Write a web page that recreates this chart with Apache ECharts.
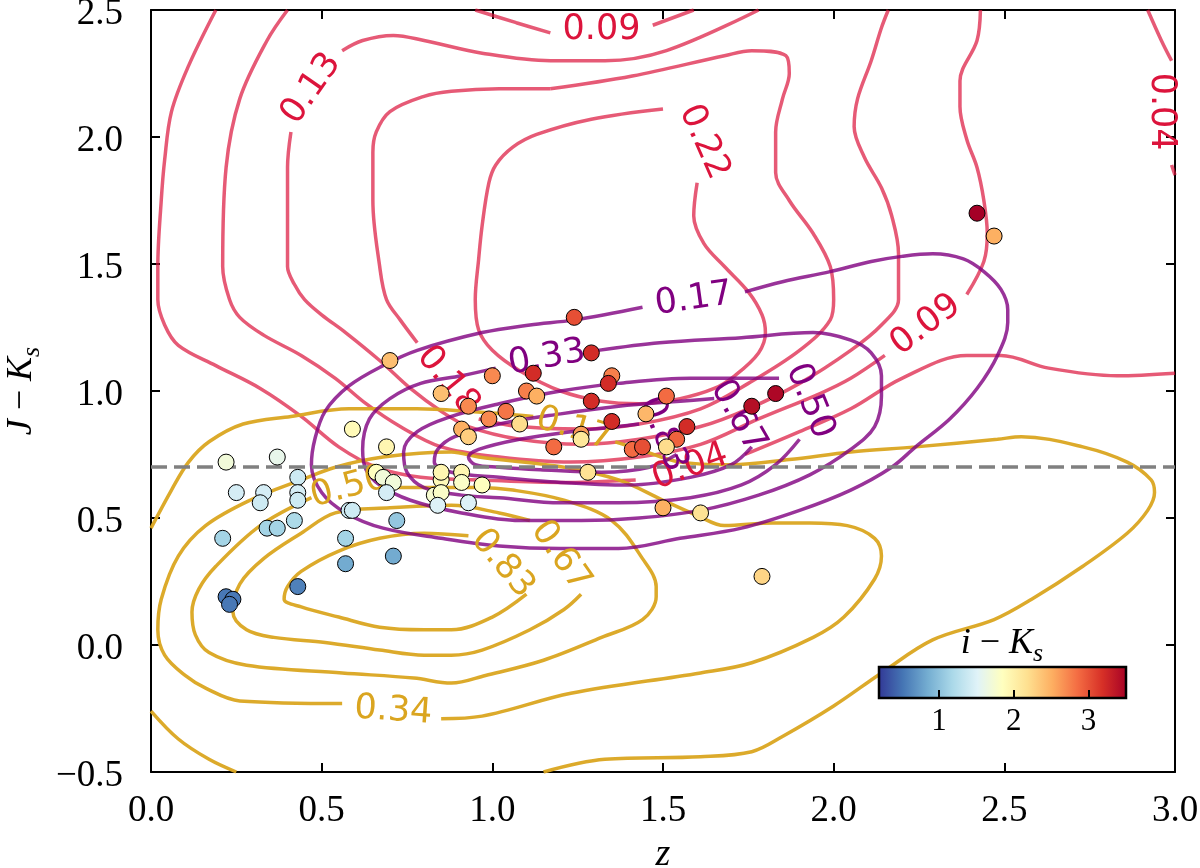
<!DOCTYPE html>
<html>
<head>
<meta charset="utf-8">
<title>J-Ks vs z</title>
<script src="https://cdn.jsdelivr.net/npm/echarts@6/dist/echarts.min.js"></script>
<style>
  html, body { margin: 0; padding: 0; background: #fff; }
  #box { width: 1200px; height: 868px; }
</style>
</head>
<body>
<div id="box"></div>
<script>
// galaxies: [z, J-Ks, i-Ks]
var galaxies = [
  [0.70,1.12,2.4],[0.85,0.99,2.4],[0.93,0.94,2.7],[1.00,1.06,2.7],[0.99,0.89,2.7],
  [0.91,0.85,2.5],[0.93,0.82,2.3],[0.59,0.85,1.9],[0.69,0.78,1.95],[0.22,0.72,1.7],
  [0.37,0.74,1.6],[0.25,0.60,1.45],[0.33,0.60,1.45],[0.32,0.56,1.4],[0.43,0.66,1.4],
  [0.43,0.60,1.45],[0.43,0.57,1.4],[0.21,0.42,1.15],[0.34,0.46,1.15],[0.37,0.46,1.15],
  [0.42,0.49,1.2],[0.58,0.53,1.4],[0.59,0.53,1.4],[0.57,0.42,1.15],[0.57,0.32,0.85],
  [0.72,0.49,1.05],[0.71,0.35,0.85],[0.43,0.23,0.6],[0.22,0.19,0.55],[0.24,0.18,0.55],
  [0.23,0.16,0.55],[0.66,0.68,1.85],[0.68,0.66,1.7],[0.71,0.64,1.7],[0.69,0.60,1.45],
  [0.85,0.65,1.9],[0.85,0.68,1.95],[0.91,0.68,1.95],[0.91,0.64,1.8],[0.97,0.63,1.85],
  [0.83,0.59,1.75],[0.85,0.60,1.8],[0.84,0.55,1.5],[0.93,0.56,1.5],
  [1.24,1.29,3.0],[1.29,1.15,3.2],[1.12,1.07,3.2],[1.35,1.06,2.75],[1.34,1.03,3.2],
  [1.10,1.00,2.75],[1.13,0.98,2.5],[1.29,0.96,3.2],[1.04,0.92,2.8],[1.08,0.87,2.2],
  [1.35,0.88,3.2],[1.51,0.98,2.85],[1.45,0.91,2.45],[1.57,0.86,3.2],[1.54,0.81,2.9],
  [1.51,0.78,2.2],[1.26,0.83,2.6],[1.26,0.81,2.1],[1.18,0.78,2.85],[1.41,0.77,2.85],
  [1.44,0.78,3.0],[1.28,0.68,2.15],[1.50,0.54,2.5],[1.61,0.52,2.15],[1.76,0.94,3.4],
  [1.83,0.99,3.45],[1.79,0.27,2.25],[2.42,1.70,3.5],[2.47,1.61,2.5]
];

var cutLine = 0.7;
var colorbarTicks = [1, 2, 3];
var ikMin = 0.2, ikMax = 3.5;
var rdylbuR = ['#313695','#4575b4','#74add1','#abd9e9','#e0f3f8','#ffffbf',
               '#fee090','#fdae61','#f46d43','#d73027','#a50026'];

// contour segments, one array of segments per level
var red004 = [
  [[0.19,2.50],[0.11,2.28],[0.06,2.10],[0.04,1.91],[0.03,1.75],[0.02,1.49],[0.02,1.36],[0.04,1.26],[0.08,1.18],[0.19,1.10],[0.32,1.01],[0.44,0.90],[0.55,0.78],[0.66,0.70],[0.79,0.66],[0.96,0.65],[1.20,0.64],[1.42,0.65]],
  [[1.74,0.75],[1.90,0.84],[2.05,0.93],[2.20,1.05],[2.39,1.14],[2.49,1.14],[2.63,1.09],[2.83,1.06],[3.00,1.07]],
  [[2.92,2.50],[2.96,2.38],[2.99,2.30]],
  [[2.99,1.89],[3.00,1.85]]
];
var red009 = [
  [[0.40,2.50],[0.34,2.38],[0.26,2.15],[0.22,1.88],[0.21,1.49],[0.23,1.36],[0.26,1.29],[0.33,1.22],[0.44,1.14],[0.54,1.05],[0.63,0.95],[0.73,0.86],[0.85,0.78],[1.02,0.74],[1.23,0.72],[1.43,0.74],[1.61,0.79],[1.78,0.89],[1.96,0.99],[2.05,1.05],[2.15,1.14]],
  [[2.39,1.38],[2.44,1.51],[2.45,1.62],[2.44,1.75],[2.42,1.88],[2.39,1.99],[2.37,2.12],[2.37,2.22],[2.42,2.38],[2.43,2.50]],
  [[0.95,2.50],[1.07,2.45],[1.17,2.41]],
  [[1.47,2.44],[1.59,2.50]]
];
var red013 = [
  [[0.41,2.02],[0.40,1.88],[0.40,1.63],[0.40,1.49],[0.42,1.42],[0.45,1.36],[0.50,1.30],[0.57,1.23],[0.67,1.12],[0.76,1.01],[0.85,0.92],[0.93,0.86],[1.08,0.81],[1.26,0.79],[1.43,0.81],[1.61,0.86],[1.75,0.93],[1.90,1.03],[2.05,1.16],[2.14,1.26],[2.19,1.36],[2.19,1.54],[2.17,1.69],[2.14,1.80],[2.09,1.92],[2.06,2.04],[2.07,2.15],[2.11,2.30],[2.14,2.43],[2.16,2.50]],
  [[1.78,2.50],[1.51,2.34],[1.33,2.30],[1.17,2.30],[0.97,2.33],[0.80,2.38],[0.71,2.40],[0.62,2.38],[0.56,2.34]]
];
var red018 = [
  [[1.17,2.19],[1.02,2.19],[0.88,2.18],[0.80,2.16],[0.70,2.10],[0.66,2.02],[0.65,1.94],[0.65,1.75],[0.67,1.49],[0.69,1.36],[0.73,1.28],[0.78,1.19]],
  [[0.96,0.89],[1.08,0.86],[1.26,0.85],[1.43,0.87],[1.61,0.93],[1.75,1.03],[1.90,1.16],[1.99,1.28],[2.00,1.36],[1.99,1.49],[1.94,1.62],[1.87,1.75],[1.83,1.86],[1.83,2.02],[1.85,2.15],[1.87,2.25],[1.86,2.32],[1.76,2.34],[1.68,2.32],[1.41,2.24],[1.17,2.19]]
];
var red022 = [
  [[1.60,1.82],[1.59,1.69],[1.62,1.58],[1.68,1.49],[1.75,1.39],[1.79,1.30],[1.80,1.23],[1.78,1.15],[1.71,1.06],[1.65,1.01],[1.55,0.97],[1.43,0.95],[1.32,0.96],[1.20,1.00],[1.08,1.08],[1.00,1.16],[0.96,1.24],[0.95,1.36],[0.96,1.52],[0.97,1.65],[0.99,1.82],[1.01,1.89],[1.06,1.96],[1.13,2.01],[1.29,2.07],[1.50,2.11]]
];
var redLabels = [
  ['0.04', 1.58, 0.70, 20], ['0.04', 2.96, 2.10, -90], ['0.09', 2.27, 1.26, 37],
  ['0.09', 1.32, 2.42, 0], ['0.13', 0.47, 2.19, 55], ['0.18', 0.87, 1.04, -51],
  ['0.22', 1.62, 1.98, -66]
];

var purple017 = [
  [[1.74,1.39],[1.85,1.43],[1.99,1.47],[2.11,1.51],[2.20,1.53],[2.29,1.54],[2.38,1.52],[2.44,1.47],[2.49,1.40],[2.51,1.32],[2.51,1.27],[2.48,1.14],[2.42,1.01],[2.34,0.89],[2.24,0.78],[2.17,0.70],[2.05,0.61],[1.90,0.53],[1.73,0.46],[1.55,0.42],[1.37,0.38],[1.20,0.38],[1.02,0.39],[0.85,0.42],[0.68,0.46],[0.57,0.52],[0.50,0.60],[0.47,0.71],[0.48,0.81],[0.51,0.92],[0.58,1.02],[0.68,1.10],[0.78,1.16],[0.97,1.23],[1.11,1.26],[1.24,1.28],[1.44,1.33]]
];
var purple033 = [
  [[1.31,1.16],[1.49,1.19],[1.73,1.21],[1.94,1.23],[2.05,1.20],[2.11,1.15],[2.14,1.06],[2.14,0.98],[2.12,0.86],[2.05,0.77],[1.93,0.67],[1.78,0.59],[1.61,0.53],[1.43,0.50],[1.26,0.49],[1.08,0.49],[0.91,0.52],[0.76,0.57],[0.67,0.63],[0.63,0.69],[0.62,0.77],[0.64,0.89],[0.70,0.97],[0.79,1.03],[0.91,1.06],[1.01,1.09]]
];
var purple050 = [
  [[1.90,0.81],[1.83,0.71],[1.73,0.63],[1.58,0.58],[1.37,0.56],[1.20,0.56],[1.02,0.58],[0.91,0.59],[0.80,0.62],[0.75,0.68],[0.74,0.76],[0.78,0.84],[0.88,0.90],[1.02,0.95],[1.20,1.00],[1.37,1.03],[1.58,1.05],[1.77,1.05],[1.84,1.05]]
];
var purple067 = [
  [[1.76,0.78],[1.70,0.71],[1.58,0.66],[1.40,0.63],[1.20,0.64],[1.02,0.66],[0.88,0.68],[0.83,0.72],[0.84,0.77],[0.89,0.82],[1.02,0.87],[1.20,0.91],[1.37,0.94],[1.55,0.96],[1.65,0.97]]
];
var purple083 = [
  [[1.54,0.75],[1.46,0.70],[1.32,0.68],[1.14,0.69],[1.02,0.70],[0.95,0.71],[0.93,0.74],[0.96,0.77],[1.08,0.81],[1.23,0.84],[1.37,0.86],[1.43,0.87]]
];
var purpleLabels = [
  ['0.17', 1.59, 1.36, 8], ['0.33', 1.16, 1.13, 10], ['0.50', 1.93, 0.96, -68],
  ['0.67', 1.72, 0.90, -60], ['0.83', 1.50, 0.83, -68]
];

var gold017 = [
  [[0.00,0.46],[0.06,0.61],[0.11,0.72],[0.17,0.80],[0.27,0.87],[0.41,0.90],[0.58,0.93],[0.78,0.93],[0.93,0.92],[1.12,0.90]],
  [[1.36,0.80],[1.43,0.77],[1.55,0.72],[1.70,0.71],[1.87,0.73],[2.05,0.76],[2.24,0.78],[2.48,0.81],[2.55,0.82],[2.73,0.78],[2.86,0.72],[2.93,0.65],[2.94,0.60],[2.92,0.53],[2.86,0.44],[2.73,0.31],[2.58,0.18],[2.47,0.10],[2.29,0.02],[2.14,-0.11],[2.00,-0.24],[1.85,-0.36],[1.76,-0.42],[1.61,-0.44],[1.33,-0.45],[1.15,-0.50]],
  [[0.00,-0.26],[0.08,-0.37],[0.17,-0.45],[0.25,-0.50]]
];
var gold034 = [
  [[0.56,-0.23],[0.26,-0.22],[0.16,-0.17],[0.10,-0.12],[0.04,-0.04],[0.02,0.06],[0.03,0.18],[0.08,0.35],[0.16,0.47],[0.29,0.57],[0.44,0.65],[0.54,0.70],[0.68,0.74],[0.88,0.76],[0.96,0.74],[1.21,0.70],[1.37,0.65],[1.50,0.57],[1.60,0.51],[1.68,0.47],[1.82,0.48],[1.93,0.48],[2.04,0.47],[2.12,0.42],[2.14,0.35],[2.12,0.26],[2.03,0.11],[1.94,0.03],[1.76,-0.07],[1.61,-0.11],[1.23,-0.19],[0.97,-0.28],[0.85,-0.29]]
];
var gold050 = [
  [[0.47,0.58],[0.32,0.47],[0.19,0.31],[0.14,0.22],[0.12,0.13],[0.13,0.04],[0.17,-0.03],[0.28,-0.08],[0.56,-0.11],[0.77,-0.13],[0.88,-0.15],[0.98,-0.12],[1.15,-0.06],[1.32,0.03],[1.44,0.10],[1.48,0.19],[1.48,0.23],[1.44,0.34],[1.35,0.49],[1.21,0.57],[1.06,0.61],[0.96,0.62],[0.85,0.62],[0.71,0.62]]
];
var gold067 = [
  [[1.26,0.20],[1.21,0.14],[1.11,0.06],[0.97,-0.02],[0.88,-0.04],[0.80,-0.04],[0.67,-0.02],[0.51,0.01],[0.36,0.03],[0.28,0.06],[0.24,0.13],[0.26,0.24],[0.33,0.34],[0.44,0.44],[0.54,0.52],[0.70,0.54],[0.88,0.55],[1.02,0.52],[1.11,0.49]]
];
var gold083 = [
  [[1.10,0.20],[1.00,0.11],[0.88,0.06],[0.80,0.06],[0.67,0.07],[0.55,0.11],[0.44,0.15],[0.39,0.18],[0.40,0.23],[0.44,0.29],[0.55,0.37],[0.67,0.42],[0.80,0.44],[0.93,0.43]]
];
var goldLabels = [
  ['0.17', 1.24, 0.85, -17], ['0.34', 0.71, -0.26, -4], ['0.50', 0.58, 0.62, 15],
  ['0.67', 1.20, 0.35, -55], ['0.83', 1.03, 0.32, -50]
];

var serif = 'Liberation Serif';

function contourLines(levels, color, opacity, z) {
  var out = [];
  levels.forEach(function (segs) {
    segs.forEach(function (seg) {
      out.push({
        type: 'line', data: seg, symbol: 'none', smooth: 0.35, silent: true, z: z,
        lineStyle: { color: color, width: 3.5, opacity: opacity }
      });
    });
  });
  return out;
}

function contourLabels(labels, color, z) {
  return {
    type: 'scatter', symbolSize: 1, silent: true, z: z,
    itemStyle: { color: 'rgba(0,0,0,0)' },
    label: {
      show: true, position: 'inside', color: color, opacity: 1,
      textBorderWidth: 0, textBorderColor: 'transparent',
      fontFamily: 'DejaVu Sans', fontSize: 35, formatter: '{b}'
    },
    data: labels.map(function (l) {
      return { name: l[0], value: [l[1], l[2]], label: { rotate: l[3] } };
    })
  };
}

var series = [];
series = series.concat(contourLines([red004, red009, red013, red018, red022], '#dc143c', 0.7, 2));
series = series.concat(contourLines([gold017, gold034, gold050, gold067, gold083], '#daa520', 0.95, 3));
series = series.concat(contourLines([purple017, purple033, purple050, purple067, purple083], '#800080', 0.8, 4));
series.push(contourLabels(redLabels, '#dc143c', 5));
series.push(contourLabels(goldLabels, '#daa520', 5));
series.push(contourLabels(purpleLabels, '#800080', 5));
series.push({
  type: 'scatter', data: galaxies, symbolSize: 16, z: 10,
  itemStyle: { borderColor: '#000', borderWidth: 1, opacity: 1 }
});
var scatterIndex = series.length - 1;
series.push({
  type: 'line', data: [], z: 12,
  markLine: {
    silent: true, symbol: 'none', label: { show: false },
    lineStyle: { color: '#808080', width: 3.5, type: [16, 7], opacity: 1 },
    data: [{ yAxis: cutLine }]
  }
});

var tickFmt = function (v) { return (v < 0 ? '\u2212' : '') + Math.abs(v).toFixed(1); };
var labelStyle = { color: '#000', fontFamily: serif, fontSize: 37, formatter: tickFmt };
var tickStyle = { inside: true, length: 9, lineStyle: { color: '#000', width: 2 } };
var lineStyle = { show: true, onZero: false, lineStyle: { color: '#000', width: 2 } };

var gradStops = rdylbuR.map(function (c, i) { return { offset: i / (rdylbuR.length - 1), color: c }; });

var myChart = echarts.init(document.getElementById('box'));
var option = {
  animation: false,
  backgroundColor: '#fff',
  grid: [
    { left: 151, right: 25, top: 10, bottom: 96, show: false, outerBoundsMode: 'none', containLabel: false },
    { left: 879, top: 667, width: 247, height: 31, show: false, outerBoundsMode: 'none', containLabel: false }
  ],
  xAxis: [
    { type: 'value', gridIndex: 0, min: 0, max: 3, interval: 0.5, position: 'bottom',
      axisLine: lineStyle, axisTick: tickStyle, splitLine: { show: false },
      axisLabel: Object.assign({ margin: 21 }, labelStyle),
      name: 'z', nameLocation: 'middle', nameGap: 64,
      nameTextStyle: { fontFamily: serif, fontStyle: 'italic', fontSize: 38, color: '#000' } },
    { type: 'value', gridIndex: 0, min: 0, max: 3, interval: 0.5, position: 'top',
      axisLine: lineStyle, axisTick: tickStyle, splitLine: { show: false }, axisLabel: { show: false } },
    { type: 'value', gridIndex: 1, min: ikMin, max: ikMax, z: 60,
      axisLine: { show: false, onZero: false }, splitLine: { show: false },
      axisTick: { inside: true, length: 8, customValues: colorbarTicks, lineStyle: { color: '#000', width: 2 } },
      axisLabel: { customValues: colorbarTicks, color: '#000', fontFamily: serif, fontSize: 31, margin: 8 } }
  ],
  yAxis: [
    { type: 'value', gridIndex: 0, min: -0.5, max: 2.5, interval: 0.5, position: 'left',
      axisLine: lineStyle, axisTick: tickStyle, splitLine: { show: false },
      axisLabel: {
        margin: 28, color: '#000',
        formatter: function (v) { return '{t|' + tickFmt(v) + '}'; },
        rich: { t: { fontFamily: serif, fontSize: 37, color: '#000', padding: [9, 0, 0, 0] } }
      },
      name: '{it|J} \u2212 {it|K}{sub|s}', nameLocation: 'middle', nameRotate: 90, nameGap: 100,
      nameTextStyle: {
        fontFamily: serif, fontSize: 36, color: '#000',
        rich: {
          it: { fontFamily: serif, fontStyle: 'italic', fontSize: 36, color: '#000' },
          sub: { fontFamily: serif, fontStyle: 'italic', fontSize: 26, color: '#000', padding: [20, 0, 0, 0] }
        }
      } },
    { type: 'value', gridIndex: 0, min: -0.5, max: 2.5, interval: 0.5, position: 'right',
      axisLine: lineStyle, axisTick: tickStyle, splitLine: { show: false }, axisLabel: { show: false } },
    { type: 'value', gridIndex: 1, min: 0, max: 1, show: false }
  ],
  visualMap: {
    type: 'continuous', show: false, dimension: 2, seriesIndex: scatterIndex,
    min: ikMin, max: ikMax, inRange: { color: rdylbuR }
  },
  graphic: [
    { type: 'rect', z: 50, shape: { x: 879, y: 667, width: 247, height: 31 },
      style: { fill: new echarts.graphic.LinearGradient(0, 0, 1, 0, gradStops), stroke: '#000', lineWidth: 2.5 } },
    { type: 'text', z: 50, x: 1002, y: 644,
      style: {
        text: '{it|i} \u2212 {it|K}{sub|s}', align: 'center', verticalAlign: 'middle',
        fontFamily: serif, fontSize: 36, fill: '#000',
        rich: {
          it: { fontFamily: serif, fontStyle: 'italic', fontSize: 36 },
          sub: { fontFamily: serif, fontStyle: 'italic', fontSize: 26, padding: [20, 0, 0, 0] }
        }
      } }
  ],
  series: series
};
myChart.setOption(option);
</script>
</body>
</html>
